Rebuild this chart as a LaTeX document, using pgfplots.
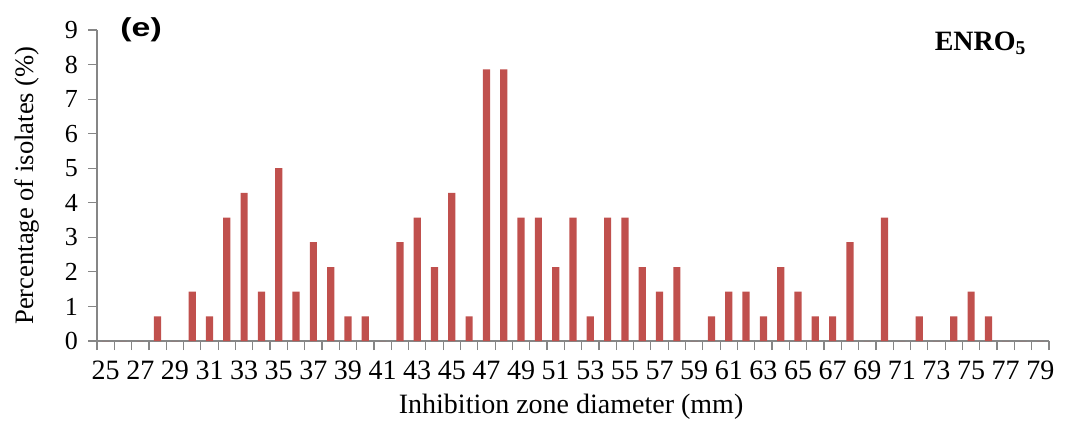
\documentclass[border=0pt]{standalone}
\usepackage{pgfplots}
\usepackage{pgfplotstable}
\pgfplotsset{compat=1.18}
\usepackage{fontspec}
\setmainfont{Liberation Serif}
\newfontfamily\arialfont{Liberation Sans}
\definecolor{barred}{HTML}{C0504D}
\definecolor{axisgray}{HTML}{868686}

% percentage of isolates per inhibition zone diameter (mm)
\pgfplotstableread{
d p
25 0
26 0
27 0
28 0.71
29 0
30 1.43
31 0.71
32 3.57
33 4.29
34 1.43
35 5.00
36 1.43
37 2.86
38 2.14
39 0.71
40 0.71
41 0
42 2.86
43 3.57
44 2.14
45 4.29
46 0.71
47 7.86
48 7.86
49 3.57
50 3.57
51 2.14
52 3.57
53 0.71
54 3.57
55 3.57
56 2.14
57 1.43
58 2.14
59 0
60 0.71
61 1.43
62 1.43
63 0.71
64 2.14
65 1.43
66 0.71
67 0.71
68 2.86
69 0
70 3.57
71 0
72 0.71
73 0
74 0.71
75 1.43
76 0.71
77 0
78 0
79 0
}\enrodata

\begin{document}
\begin{tikzpicture}
\begin{axis}[
    scale only axis,
    width=476pt, height=155.5pt,
    xmin=24.5, xmax=79.5,
    ymin=0, ymax=9,
    axis x line=bottom, axis y line=left,
    axis line style={-, axisgray, line width=0.6pt},
    tick align=outside,
    xtick={25,27,...,79},
    minor xtick={24.5,25.5,...,79.5},
    major x tick style={draw=none},
    minor x tick style={axisgray, line width=0.6pt},
    minor tick length=4.5pt,
    ytick={0,1,...,9},
    y tick style={axisgray, line width=0.6pt},
    major tick length=4.5pt,
    xticklabel style={font=\fontsize{14}{16}\selectfont, text=black, yshift=-2pt},
    yticklabel style={font=\fontsize{13}{15}\selectfont, text=black, xshift=-1.5pt},
    /pgf/number format/assume math mode=true,
    xlabel={Inhibition zone diameter (mm)},
    ylabel={Percentage of isolates (\%)},
    xlabel style={font=\fontsize{14}{16}\selectfont, at={(axis description cs:0.498,-0.212)}, anchor=center},
    ylabel style={font=\fontsize{13.3}{15}\selectfont, at={(axis description cs:-0.0735,0.5)}, anchor=center},
    clip=false,
]
\addplot[ybar, bar width=3.6pt, fill=barred, draw=none] table[x=d, y=p] {\enrodata};
\node[font=\arialfont\bfseries\fontsize{13}{15}\selectfont, xscale=1.3] at (axis cs:27.05,9.0) {(e)};
\node[font=\bfseries\fontsize{14}{16}\selectfont] at (axis cs:75.55,8.62) {ENRO\textsubscript{5}};
\path (rel axis cs:0,0) ++(-48.5pt,-42pt);
\path (rel axis cs:1,1) ++(8.5pt,15pt);
\end{axis}
\end{tikzpicture}
\end{document}
